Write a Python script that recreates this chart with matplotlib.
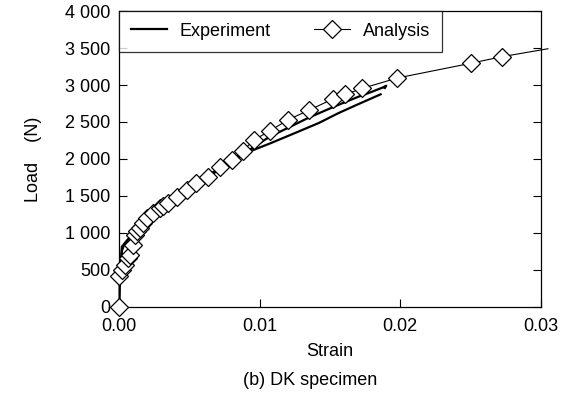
import matplotlib
matplotlib.use("Agg")
import matplotlib.pyplot as plt
from matplotlib.ticker import FuncFormatter

plt.rcParams['font.family'] = ['Liberation Sans', 'DejaVu Sans']

# analysis curve (diamonds), last point only extends the line
ana_strain = [0.0, 0.0, 0.0002, 0.0004, 0.0006, 0.0008, 0.001, 0.0011, 0.0013,
              0.0015, 0.0017, 0.002, 0.0024, 0.0029, 0.0031, 0.0035, 0.0041,
              0.0048, 0.0055, 0.0063, 0.0072, 0.0080, 0.0088, 0.0096, 0.0107,
              0.0120, 0.0135, 0.0152, 0.0161, 0.0173, 0.0198, 0.0250, 0.0272]
ana_load = [0, 420, 500, 570, 660, 700, 840, 970, 1020,
            1070, 1130, 1200, 1270, 1340, 1360, 1400, 1490,
            1580, 1680, 1760, 1895, 1986, 2110, 2257, 2378,
            2527, 2660, 2810, 2874, 2955, 3095, 3293, 3382]
ana_tail_strain = [0.0272, 0.0305]
ana_tail_load = [3382, 3490]

# two experiment records
exp1_strain = [0.0, 0.00005, 0.0001, 0.0002, 0.0004, 0.0007, 0.001, 0.0015,
               0.002, 0.003, 0.004, 0.005, 0.006, 0.007, 0.008, 0.009, 0.0107,
               0.012, 0.0135, 0.0154, 0.017, 0.018, 0.0188, 0.0190, 0.0189]
exp1_load = [0, 300, 550, 760, 860, 930, 1000, 1100,
             1210, 1370, 1500, 1620, 1740, 1860, 1980, 2090, 2300,
             2420, 2560, 2716, 2840, 2910, 2970, 2990, 2960]
exp2_strain = [0.0, 0.00003, 0.0001, 0.0002, 0.0005, 0.0008, 0.001, 0.0015,
               0.002, 0.003, 0.004, 0.005, 0.006, 0.007, 0.008, 0.009, 0.0108,
               0.0125, 0.0142, 0.0156, 0.017, 0.0186]
exp2_load = [0, 250, 500, 815, 880, 940, 990, 1090,
             1190, 1350, 1480, 1600, 1720, 1840, 1960, 2080, 2215,
             2350, 2486, 2620, 2740, 2874]

fig = plt.figure(figsize=(5.67, 3.94), dpi=100)
ax = fig.add_axes([0.21, 0.221, 0.744, 0.751])

ax.plot(exp1_strain, exp1_load, color='black', lw=1.6, label='Experiment')
ax.plot(exp2_strain, exp2_load, color='black', lw=1.6)
ax.plot(ana_tail_strain, ana_tail_load, color='black', lw=0.8, clip_on=False)
ax.plot(ana_strain, ana_load, color='black', lw=0.8, marker='D', ms=9,
        mfc='white', mec='black', mew=0.9, label='Analysis', clip_on=False,
        zorder=3)

ax.set_xlim(0, 0.03)
ax.set_ylim(0, 4000)
ax.set_xticks([0, 0.01, 0.02, 0.03])
ax.xaxis.set_major_formatter(FuncFormatter(lambda v, p: f"{v:.2f}"))
ax.set_yticks(range(0, 4001, 500))
ax.yaxis.set_major_formatter(
    FuncFormatter(lambda v, p: f"{int(v):,}".replace(",", " ")))
ax.tick_params(direction='in', length=6, width=0.8, labelsize=13,
               right=True, top=False)
ax.tick_params(axis='x', pad=8)
ax.tick_params(axis='y', pad=6)
for s in ax.spines.values():
    s.set_linewidth(0.9)

ax.set_xlabel('Strain', fontsize=13, labelpad=6)
ax.set_ylabel('Load    (N)', fontsize=13, labelpad=17)

leg = ax.legend(loc='upper left', ncol=2, frameon=True, fancybox=False,
                edgecolor='black', fontsize=13, borderaxespad=0,
                handlelength=2.0, columnspacing=2.4, borderpad=0.65,
                handletextpad=0.7)
leg.get_frame().set_linewidth(0.9)

fig.text(0.547, 0.035, '(b) DK specimen', ha='center', va='center',
         fontsize=13)

fig.savefig('out.png', dpi=100)
